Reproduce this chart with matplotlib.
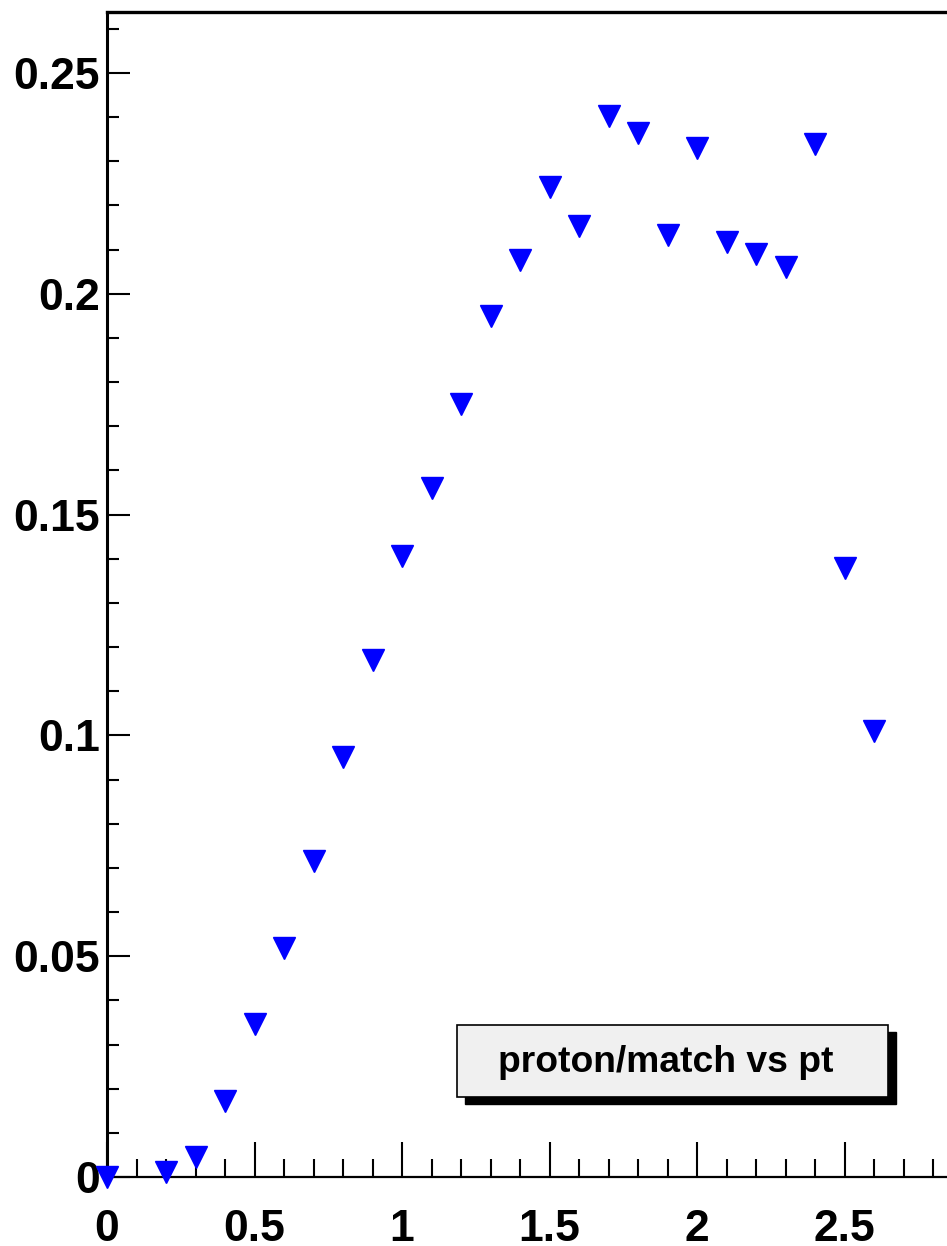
import matplotlib.pyplot as plt
from matplotlib.patches import Rectangle
from matplotlib.ticker import MultipleLocator, FuncFormatter

# pt de cada bin e a razao proton/match
pt = [0.0, 0.2, 0.3, 0.4, 0.5, 0.6, 0.7, 0.8, 0.9, 1.0, 1.1, 1.2, 1.3,
      1.4, 1.5, 1.6, 1.7, 1.8, 1.9, 2.0, 2.1, 2.2, 2.3, 2.4, 2.5, 2.6]
razao = [0.0, 0.0011, 0.0045, 0.0172, 0.0346, 0.0519, 0.0716, 0.0951,
         0.1171, 0.1406, 0.1560, 0.1750, 0.1950, 0.2077, 0.2242, 0.2154,
         0.2403, 0.2364, 0.2133, 0.2330, 0.2117, 0.2090, 0.2060, 0.2339,
         0.1379, 0.1010]
titulo = 'proton/match vs pt'

plt.rcParams['font.family'] = 'Liberation Sans'
plt.rcParams['font.weight'] = 'bold'

W, H = 947, 1246
fig = plt.figure(figsize=(W / 100, H / 100), dpi=100)
# o quadro passa da borda direita da figura
ax = fig.add_axes([107 / W, 69 / H, 885 / W, 1165 / H])

ax.plot(pt, razao, linestyle='none', marker='v', markersize=16,
        color='blue', clip_on=False, zorder=3)

ax.set_xlim(0, 3.0)
ax.set_ylim(0, 1165 / 4416)

# eixos
ax.spines['right'].set_visible(False)
ax.spines['top'].set_linewidth(2.4)
ax.spines['left'].set_linewidth(2.2)
ax.spines['bottom'].set_linewidth(1.6)

fmt = FuncFormatter(lambda v, p: '%g' % round(v, 4))
ax.xaxis.set_major_locator(MultipleLocator(0.5))
ax.xaxis.set_minor_locator(MultipleLocator(0.1))
ax.yaxis.set_major_locator(MultipleLocator(0.05))
ax.yaxis.set_minor_locator(MultipleLocator(0.01))
ax.xaxis.set_major_formatter(fmt)
ax.yaxis.set_major_formatter(fmt)

ax.tick_params(axis='x', which='major', direction='in', length=25, width=1.5,
               labelsize=32, pad=23, top=False)
ax.tick_params(axis='x', which='minor', direction='in', length=13, width=1.5,
               top=False)
ax.tick_params(axis='y', which='major', direction='in', length=16.5, width=1.5,
               labelsize=32, pad=5, right=False)
ax.tick_params(axis='y', which='minor', direction='in', length=8.6, width=1.5,
               right=False)

# caixa do titulo com sombra
sombra = Rectangle((465 / W, 1 - 1104 / H), 431 / W, 72 / H,
                   transform=fig.transFigure, facecolor='black',
                   edgecolor='black', lw=1.0)
caixa = Rectangle((457 / W, 1 - 1097 / H), 431 / W, 72 / H,
                  transform=fig.transFigure, facecolor='#f0f0f0',
                  edgecolor='black', lw=1.2)
fig.patches.extend([sombra, caixa])
fig.text(666 / W, 1 - 1072 / H, titulo, ha='center', va='baseline',
         fontsize=26.8, fontweight='bold')

fig.savefig('out.png', dpi=100)
